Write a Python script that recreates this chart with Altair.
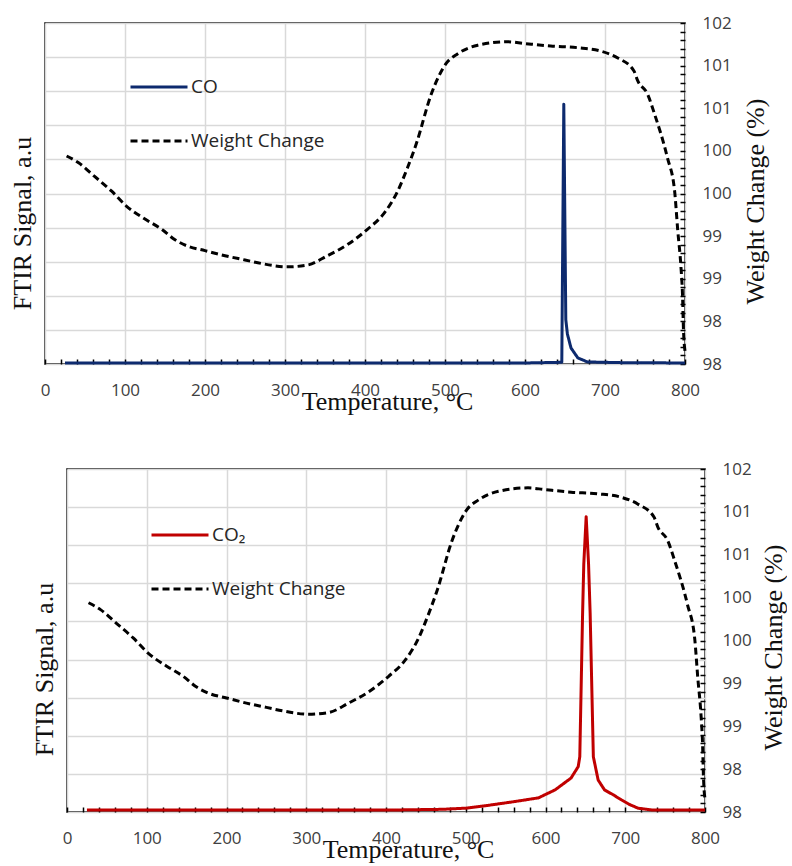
import altair as alt
import pandas as pd

# ---- data ----
# TGA weight change (%) vs temperature (°C) (same curve in both panels)
wt_temp = [27, 42, 62, 83, 102, 125, 146, 162, 179, 200, 225, 250, 270, 303, 328,
           353, 378, 403, 424, 441, 453, 464, 483, 501, 516, 541, 578, 599, 632,
           666, 695, 716, 736, 741, 753, 762, 778, 787, 791, 795, 797, 798, 800]
wt_val = [100.44, 100.36, 100.20, 100.03, 99.85, 99.70, 99.58, 99.46, 99.38, 99.33,
          99.27, 99.22, 99.18, 99.14, 99.16, 99.27, 99.40, 99.58, 99.77, 100.03,
          100.30, 100.58, 101.17, 101.52, 101.64, 101.74, 101.78, 101.76, 101.73,
          101.71, 101.67, 101.59, 101.44, 101.32, 101.17, 100.93, 100.42, 100.03,
          99.56, 99.13, 98.78, 98.43, 98.15]

# FTIR CO signal (a.u.)
co_temp = [25, 300, 600, 646, 648.5, 651, 653, 657.5, 666, 678, 720, 800]
co_sig = [0.03, 0.03, 0.03, 0.05, 7.62, 1.3, 0.88, 0.47, 0.18, 0.06, 0.04, 0.03]

# FTIR CO2 signal (a.u.)
co2_temp = [25, 200, 400, 470, 500, 530, 560, 591, 612, 632, 641, 643, 646.5, 648,
            651, 654, 656, 660, 666, 674, 685, 695, 705, 716, 735, 800]
co2_sig = [0.05, 0.05, 0.05, 0.07, 0.10, 0.18, 0.27, 0.37, 0.58, 0.89, 1.19, 1.45,
           5.2, 6.5, 7.75, 6.5, 5.2, 1.45, 0.84, 0.58, 0.45, 0.32, 0.20, 0.10, 0.05, 0.05]

x_ticks = list(range(0, 801, 20))
wt_ticks = [round(98 + 0.1 * i, 1) for i in range(41)]

SANS = "Open Sans"
SERIF = "Liberation Serif"
GRID = "#d9d9d9"
LABEL = "#404040"
TITLE = "#111111"


def panel(sig_temp, sig_vals, sig_name, sig_color, sig_width, ymax, w, h, leg_x, leg_y, rtitle_x):
    sig_df = pd.DataFrame({"T": sig_temp, "S": sig_vals, "series": sig_name})
    wt_df = pd.DataFrame({"T": wt_temp, "W": wt_val, "series": "Weight Change"})

    x = alt.X(
        "T:Q",
        scale=alt.Scale(domain=[0, 800], nice=False, zero=False),
        axis=alt.Axis(
            values=x_ticks,
            labelExpr="datum.value % 100 === 0 ? format(datum.value, 'd') : ''",
            offset=-5, tickSize=5, tickWidth=1.5, tickColor="black", domain=False,
            grid=True, gridColor=GRID, gridWidth=1.5,
            gridOpacity={"condition": {"test": "datum.value % 100 === 0", "value": 1}, "value": 0},
            labelFont=SANS, labelFontSize=17, labelColor=LABEL, labelPadding=18,
            labelOverlap=False, labelFlush=False,
            title="Temperature, °C", titleFont=SERIF, titleFontSize=26,
            titleFontWeight="normal", titleColor=TITLE,
            titleX=w / 2 + 22, titleY=50, titleAlign="center", titleBaseline="alphabetic",
        ),
    )

    left_axis = alt.Axis(
        values=list(range(0, ymax + 1)), labels=False, ticks=False, domain=False,
        grid=True, gridColor=GRID, gridWidth=1.5,
        title="FTIR Signal, a.u", titleFont=SERIF, titleFontSize=26,
        titleFontWeight="normal", titleColor=TITLE, titleAngle=270,
        titleX=-15, titleY=200, titleAlign="center", titleBaseline="alphabetic",
    )

    right_axis = alt.Axis(
        orient="right", values=wt_ticks,
        labelExpr="abs(datum.value*2 - round(datum.value*2)) < 0.01 ? format(floor(datum.value + 0.001), 'd') : ''",
        offset=-5, tickSize=5, tickWidth=1.5, tickColor="black", domain=False, grid=False,
        labelFont=SANS, labelFontSize=17, labelColor=LABEL, labelPadding=17,
        labelOverlap=False,
        title="Weight Change (%)", titleFont=SERIF, titleFontSize=26,
        titleFontWeight="normal", titleColor=TITLE, titleAngle=270,
        titleX=rtitle_x, titleY=178, titleAlign="center", titleBaseline="alphabetic",
    )

    leg = alt.Legend(
        orient="none", legendX=leg_x, legendY=leg_y, title=None,
        symbolType="stroke", symbolSize=3249, symbolStrokeWidth=3,
        labelFont=SANS, labelFontSize=19, labelColor="#262626", labelOffset=2,
        rowPadding=14, padding=0, labelLimit=300,
    )
    cscale = alt.Scale(domain=[sig_name, "Weight Change"], range=[sig_color, "black"])
    dscale = alt.Scale(domain=[sig_name, "Weight Change"], range=[[1, 0], [7, 4]])

    sig = alt.Chart(sig_df).mark_line(strokeWidth=sig_width, strokeJoin="round").encode(
        x=x,
        y=alt.Y("S:Q", scale=alt.Scale(domain=[0, ymax], nice=False), axis=left_axis),
        color=alt.Color("series:N", scale=cscale, legend=leg),
        strokeDash=alt.StrokeDash("series:N", scale=dscale, legend=leg),
    )
    wt = alt.Chart(wt_df).mark_line(strokeWidth=3, interpolate="monotone").encode(
        x=x,
        y=alt.Y("W:Q", scale=alt.Scale(domain=[98, 102], nice=False, zero=False), axis=right_axis),
        color=alt.Color("series:N", scale=cscale, legend=leg),
        strokeDash=alt.StrokeDash("series:N", scale=dscale, legend=leg),
    )
    return alt.layer(sig, wt).resolve_scale(y="independent").properties(width=w, height=h)


def spacer(width):
    return alt.Chart(pd.DataFrame({"v": [0.5]})).mark_point(opacity=0).encode(
        x=alt.X("v:Q", axis=None, scale=alt.Scale(domain=[0, 1])),
        y=alt.Y("v:Q", axis=None, scale=alt.Scale(domain=[0, 1])),
    ).properties(width=width, height=10, view=alt.ViewBackground(strokeOpacity=0))


top = panel(co_temp, co_sig, "CO", "#0d2a6e", 3, 10, 640, 341, 84, 34, 83)
bottom = panel(co2_temp, co2_sig, "CO\u2082", "#c00000", 3, 9, 638, 343, 83, 36, 81)

top_row = alt.hconcat(spacer(2), top, spacing=0).resolve_scale(
    color="independent", strokeDash="independent"
)
bottom_row = alt.hconcat(spacer(26), bottom, spacing=0).resolve_scale(
    color="independent", strokeDash="independent"
)

chart = alt.concat(top_row, bottom_row, columns=1, spacing=44).resolve_scale(
    color="independent", strokeDash="independent"
).configure_view(stroke="black", strokeWidth=1.5).properties(
    padding={"left": 2, "top": 13, "right": 0, "bottom": 0}
)

chart.save("out.html", embed_options={"renderer": "svg", "actions": False})
